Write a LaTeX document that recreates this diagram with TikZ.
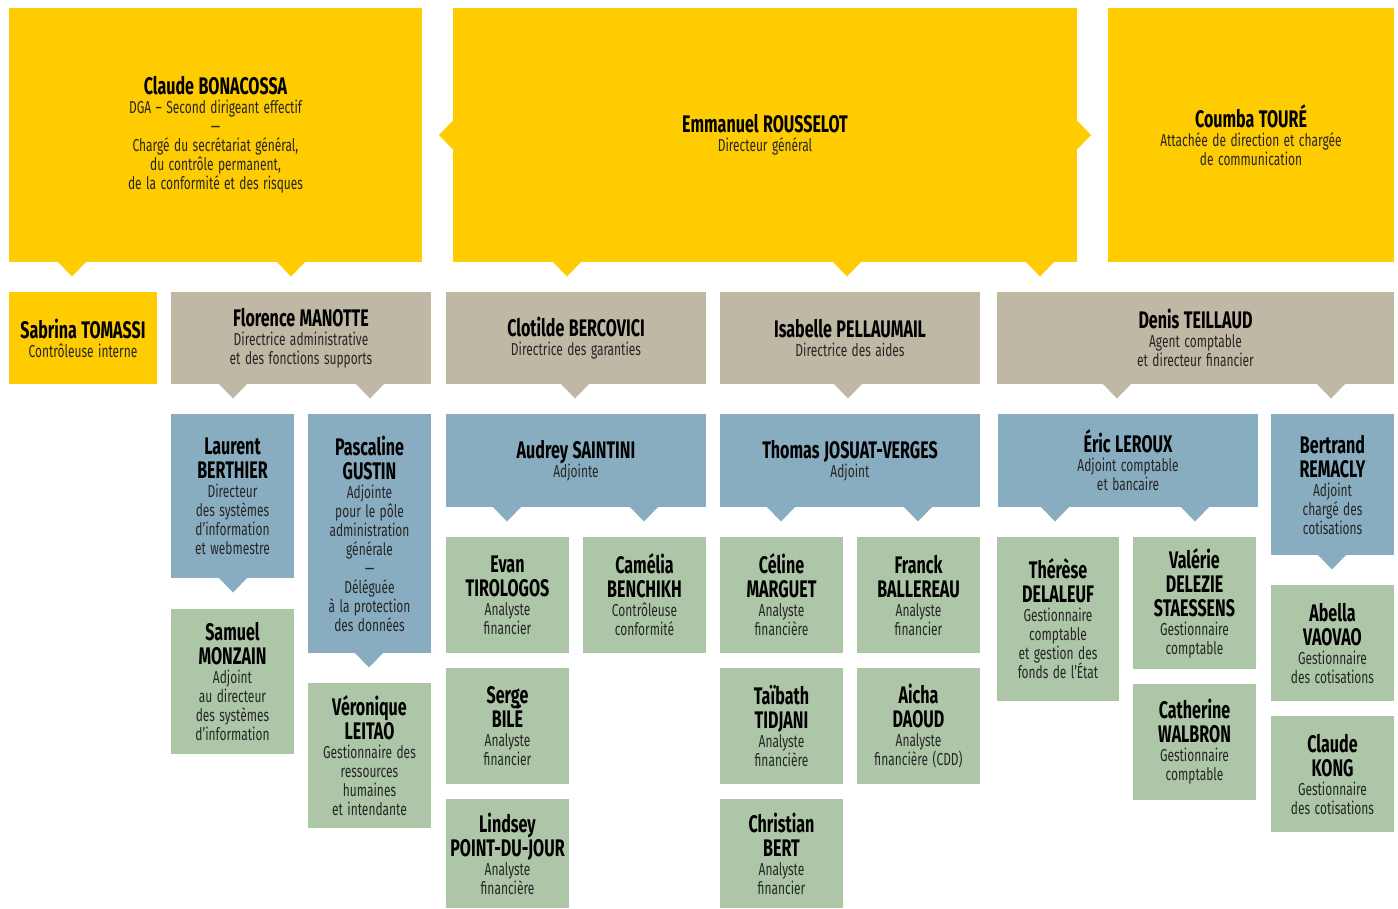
\documentclass[tikz,border=0pt]{standalone}
\usepackage{fontspec}
\setmainfont{Fira Sans}
\newfontfamily\namefam[FakeStretch=0.67]{Fira Sans}
\newfontfamily\rolefam[FakeStretch=0.69]{Fira Sans}
\usetikzlibrary{calc}

\definecolor{dirYellow}{HTML}{FECC00}
\definecolor{dirBeige}{HTML}{BFB8A5}
\definecolor{dirBlue}{HTML}{89ADC0}
\definecolor{dirGreen}{HTML}{ADC6A7}

\setlength\parskip{0pt}
\newcommand\cardname{\namefam\bfseries\fontsize{18}{18}\selectfont\color{black}}
\newcommand\cardrole{\rolefam\fontsize{13}{14.25}\selectfont\color{black!85}}
\newcommand\who[2]{{\cardname #1\par}{\cardrole #2\par}}

% \card{name}{style}{x1}{y1}{x2}{y2}{text}, corners in pixel units
\newcommand\card[7]{%
  \pgfmathsetmacro\cardw{(#5-#3)*0.75}%
  \pgfmathsetmacro\cardh{(#6-#4)*0.75}%
  \node[#2, minimum width=\cardw pt, minimum height=\cardh pt,
        text width=\cardw pt] (#1) at (#3,#4) {#7};}

% downward pointer under a card, #2 = offset from the card's left edge
\newcommand\tabdown[3]{%
  \fill[#3] ($(#1.south west)+(#2-14.5,-0.5)$) -- ($(#1.south west)+(#2,14.5)$)
    -- ($(#1.south west)+(#2+14.5,-0.5)$) -- cycle;}

\tikzset{
  card/.style={anchor=north west, inner sep=0pt, outer sep=0pt, align=center,
    execute at begin node={\setlength\parindent{0pt}\setlength\lineskiplimit{-20pt}}},
  yellowcard/.style={card, fill=dirYellow},
  beigecard/.style={card, fill=dirBeige},
  bluecard/.style={card, fill=dirBlue},
  greencard/.style={card, fill=dirGreen},
}

\begin{document}
\begin{tikzpicture}[x=0.75pt, y=-0.75pt]
\fill[white] (0,0) rectangle (1398,908);
\useasboundingbox (0,0) rectangle (1398,908);

% direction
\card{cb}{yellowcard}{9}{8}{422}{262}{\who{Claude BONACOSSA}{DGA – Second dirigeant effectif\\—\\Chargé du secrétariat général,\\du contrôle permanent,\\de la conformité et des risques}}
\card{em}{yellowcard}{453}{8}{1077}{262}{\who{Emmanuel ROUSSELOT}{Directeur général}}
\card{ct}{yellowcard}{1108}{8}{1394}{262}{\who{Coumba TOURÉ}{Attachée de direction et chargée\\de communication}}

% heads of department
\card{st}{yellowcard}{9}{292}{157}{384}{\who{Sabrina TOMASSI}{Contrôleuse interne}}
\card{fm}{beigecard}{171}{292}{431}{384}{\who{Florence MANOTTE}{Directrice administrative\\et des fonctions supports}}
\card{cl}{beigecard}{446}{292}{706}{384}{\who{Clotilde BERCOVICI}{Directrice des garanties}}
\card{ip}{beigecard}{720}{292}{980}{384}{\who{Isabelle PELLAUMAIL}{Directrice des aides}}
\card{dt}{beigecard}{997}{292}{1394}{384}{\who{Denis TEILLAUD}{Agent comptable\\et directeur financier}}

% deputies
\card{lb}{bluecard}{171}{414}{294}{578}{\who{Laurent\\BERTHIER}{Directeur\\des systèmes\\d’information\\et webmestre}}
\card{pg}{bluecard}{308}{414}{431}{653}{\who{Pascaline\\GUSTIN}{Adjointe\\pour le pôle\\administration\\générale\\—\\Déléguée\\à la protection\\des données}}
\card{as}{bluecard}{446}{414}{706}{507}{\who{Audrey SAINTINI}{Adjointe}}
\card{tj}{bluecard}{720}{414}{980}{507}{\who{Thomas JOSUAT-VERGES}{Adjoint}}
\card{el}{bluecard}{998}{414}{1258}{507}{\who{Éric LEROUX}{Adjoint comptable\\et bancaire}}
\card{br}{bluecard}{1271}{414}{1394}{555}{\who{Bertrand\\REMACLY}{Adjoint\\chargé des\\cotisations}}

% staff
\card{sm}{greencard}{171}{609}{294}{754}{\who{Samuel\\MONZAIN}{Adjoint\\au directeur\\des systèmes\\d’information}}
\card{vl}{greencard}{308}{683}{431}{828}{\who{Véronique\\LEITAO}{Gestionnaire des\\ressources\\humaines\\et intendante}}
\card{et}{greencard}{446}{537}{569}{653}{\who{Evan\\TIROLOGOS}{Analyste\\financier}}
\card{cbe}{greencard}{583}{537}{706}{653}{\who{Camélia\\BENCHIKH}{Contrôleuse\\conformité}}
\card{cm}{greencard}{720}{537}{843}{653}{\who{Céline\\MARGUET}{Analyste\\financière}}
\card{fb}{greencard}{857}{537}{980}{653}{\who{Franck\\BALLEREAU}{Analyste\\financier}}
\card{td}{greencard}{997}{537}{1119}{701}{\who{Thérèse\\DELALEUF}{Gestionnaire\\comptable\\et gestion des\\fonds de l’État}}
\card{vd}{greencard}{1133}{537}{1256}{669}{\who{Valérie\\DELEZIE\\STAESSENS}{Gestionnaire\\comptable}}
\card{av}{greencard}{1271}{585}{1394}{701}{\who{Abella\\VAOVAO}{Gestionnaire\\des cotisations}}
\card{sb}{greencard}{446}{668}{569}{784}{\who{Serge\\BILÉ}{Analyste\\financier}}
\card{tt}{greencard}{720}{668}{843}{784}{\who{Taïbath\\TIDJANI}{Analyste\\financière}}
\card{ad}{greencard}{857}{668}{980}{784}{\who{Aicha\\DAOUD}{Analyste\\financière (CDD)}}
\card{cw}{greencard}{1133}{684}{1256}{800}{\who{Catherine\\WALBRON}{Gestionnaire\\comptable}}
\card{ck}{greencard}{1271}{716}{1394}{832}{\who{Claude\\KONG}{Gestionnaire\\des cotisations}}
\card{lp}{greencard}{446}{799}{569}{908}{\who{Lindsey\\POINT-DU-JOUR}{Analyste\\financière}}
\card{cbt}{greencard}{720}{799}{843}{908}{\who{Christian\\BERT}{Analyste\\financier}}

% pointers
\tabdown{cb}{63}{dirYellow}
\tabdown{cb}{282}{dirYellow}
\tabdown{em}{114}{dirYellow}
\tabdown{em}{394}{dirYellow}
\tabdown{em}{587}{dirYellow}
\fill[dirYellow] ($(em.west)+(0.5,-15)$) -- ($(em.west)+(-14,0)$) -- ($(em.west)+(0.5,15)$) -- cycle;
\fill[dirYellow] ($(em.east)+(-0.5,-15)$) -- ($(em.east)+(14,0)$) -- ($(em.east)+(-0.5,15)$) -- cycle;
\tabdown{fm}{62}{dirBeige}
\tabdown{fm}{199}{dirBeige}
\tabdown{cl}{129}{dirBeige}
\tabdown{ip}{128}{dirBeige}
\tabdown{dt}{120}{dirBeige}
\tabdown{dt}{334}{dirBeige}
\tabdown{lb}{62}{dirBlue}
\tabdown{pg}{61}{dirBlue}
\tabdown{as}{61}{dirBlue}
\tabdown{as}{198}{dirBlue}
\tabdown{tj}{61}{dirBlue}
\tabdown{tj}{198}{dirBlue}
\tabdown{el}{57}{dirBlue}
\tabdown{el}{197}{dirBlue}
\tabdown{br}{61}{dirBlue}
\end{tikzpicture}
\end{document}
